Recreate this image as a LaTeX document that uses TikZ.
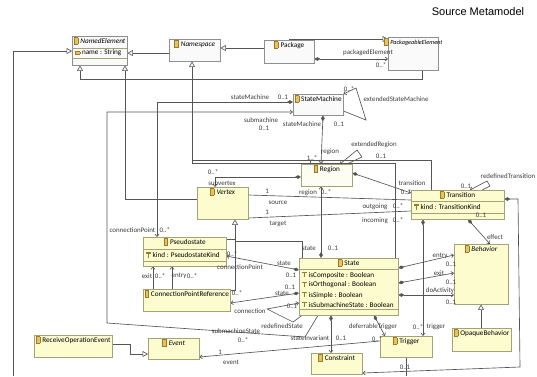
\documentclass[tikz,border=0pt]{standalone}
\usepackage{fontspec}
\setmainfont{Carlito}
\newfontfamily\titlefont{Liberation Sans}
\usetikzlibrary{arrows.meta,backgrounds}
\definecolor{clsfill}{HTML}{FCFCCF}
\definecolor{clsline}{HTML}{A3A37A}
\definecolor{absfill}{HTML}{FAFAFA}
\definecolor{absline}{HTML}{8F8F8F}
\definecolor{regfill}{HTML}{FEFDF2}
\definecolor{iconfill}{HTML}{E6C35C}
\definecolor{icondark}{HTML}{9C7A28}
\definecolor{wirecol}{HTML}{555555}
\definecolor{lbl}{HTML}{3A3A3A}
\newcommand{\clsicon}{{\setlength{\fboxsep}{0pt}\setlength{\fboxrule}{0.4pt}\fcolorbox{icondark}{iconfill}{\rule{0pt}{6pt}\hspace{3.4pt}}}\hspace{2.2pt}}
\newcommand{\fieldicon}{{\setlength{\fboxsep}{0pt}\setlength{\fboxrule}{0.4pt}\raisebox{1pt}{\fcolorbox{icondark}{iconfill}{\rule{0pt}{2pt}\hspace{4pt}}}}\hspace{2pt}}
\newcommand{\pinicon}{\textcolor{icondark}{\rlap{\rule[4pt]{4.5pt}{1.2pt}}\hspace{1.8pt}\rule{1pt}{5pt}\hspace{1.7pt}}\hspace{2pt}}
\newcommand{\compline}[2]{\draw[clsline,line width=0.4pt] (#1.west |- 0,#2) -- (#1.east |- 0,#2);}

\begin{document}
\begin{tikzpicture}[x=1pt,y=-1pt,font=\fontsize{7.2}{8.5}\selectfont,
    cls/.style={rectangle,draw=clsline,fill=clsfill,inner sep=0pt,anchor=north west},
    plaincls/.style={cls,draw=absline,fill=absfill},
    regcls/.style={cls,fill=regfill},
    hdr/.style={anchor=north,inner sep=1.2pt},
    attr/.style={anchor=west,inner sep=0pt},
    lab/.style={font=\fontsize{6.9}{8}\selectfont,text=lbl,inner sep=0pt},
    wire/.style={draw=wirecol,line width=0.65pt},
    gen/.style={wire,-{Triangle[open,length=5.5pt,width=6pt]}},
    comp/.style={wire,{Diamond[length=6pt,width=3.6pt]}-{Straight Barb[length=2.4pt,width=4pt]}},
    assoc/.style={wire,-{Straight Barb[length=2.4pt,width=4pt]}}]

  \useasboundingbox (0,0) rectangle (537,376);
  \node[font=\titlefont\fontsize{11}{13}\selectfont] (title) at (478,12) {Source Metamodel};

  % classes
  \node[plaincls,minimum width=55,minimum height=29] (NamedElement) at (72,36) {};
  \node[plaincls,minimum width=51,minimum height=22] (Namespace) at (169,39) {};
  \node[plaincls,minimum width=50,minimum height=23] (Package) at (264,40) {};
  \node[plaincls,minimum width=50,minimum height=33] (PackageableElement) at (388,37) {};
  \node[plaincls,minimum width=50,minimum height=21] (StateMachine) at (293,94) {};
  \node[regcls,minimum width=51,minimum height=22] (Region) at (301,164) {};
  \node[cls,minimum width=51,minimum height=32] (Vertex) at (197,187) {};
  \node[cls,minimum width=93,minimum height=29] (Transition) at (411,190) {};
  \node[cls,minimum width=83,minimum height=29] (Pseudostate) at (143,237) {};
  \node[cls,minimum width=87,minimum height=22] (ConnectionPointReference) at (143,289) {};
  \node[cls,minimum width=99,minimum height=57] (State) at (299,258) {};
  \node[cls,minimum width=54,minimum height=60] (Behavior) at (454,244) {};
  \node[cls,minimum width=59,minimum height=23] (OpaqueBehavior) at (452,328) {};
  \node[cls,minimum width=52,minimum height=21] (Trigger) at (380,336) {};
  \node[cls,minimum width=51,minimum height=21] (Constraint) at (311,353) {};
  \node[cls,minimum width=78,minimum height=22] (ReceiveOperationEvent) at (34,335) {};
  \node[cls,minimum width=51,minimum height=21] (Event) at (148,338) {};

  \node[hdr] (NamedElement-h) at (NamedElement.north) {\clsicon\textit{NamedElement}};
  \node[hdr] (Namespace-h) at (Namespace.north) {\clsicon\textit{Namespace}};
  \node[hdr] (Package-h) at (Package.north) {\clsicon Package};
  \node[hdr,font=\fontsize{6.2}{7.5}\selectfont] (PackageableElement-h) at (PackageableElement.north) {\clsicon\textit{PackageableElement}};
  \node[hdr] (StateMachine-h) at (StateMachine.north) {\clsicon StateMachine};
  \node[hdr] (Region-h) at (Region.north) {\clsicon Region};
  \node[hdr] (Vertex-h) at (Vertex.north) {\clsicon\textit{Vertex}};
  \node[hdr] (Transition-h) at (Transition.north) {\clsicon Transition};
  \node[hdr] (Pseudostate-h) at (Pseudostate.north) {\clsicon Pseudostate};
  \node[hdr] (ConnectionPointReference-h) at (ConnectionPointReference.north) {\clsicon ConnectionPointReference};
  \node[hdr] (State-h) at (State.north) {\clsicon State};
  \node[hdr] (Behavior-h) at (Behavior.north) {\clsicon\textit{Behavior}};
  \node[hdr] (OpaqueBehavior-h) at (OpaqueBehavior.north) {\clsicon OpaqueBehavior};
  \node[hdr] (Trigger-h) at (Trigger.north) {\clsicon Trigger};
  \node[hdr] (Constraint-h) at (Constraint.north) {\clsicon Constraint};
  \node[hdr] (ReceiveOperationEvent-h) at (ReceiveOperationEvent.north) {\clsicon ReceiveOperationEvent};
  \node[hdr] (Event-h) at (Event.north) {\clsicon\textit{Event}};

  % attribute compartments
  \compline{NamedElement}{48}
  \compline{NamedElement}{58}
  \node[attr] (NamedElement-a) at (75,53) {\fieldicon name : String};
  \compline{Transition}{201}
  \compline{Transition}{213}
  \node[attr] (Transition-a) at (414,207) {\pinicon kind : TransitionKind};
  \compline{Pseudostate}{249}
  \compline{Pseudostate}{261}
  \node[attr] (Pseudostate-a) at (146,255) {\pinicon kind : PseudostateKind};
  \compline{State}{269}
  \compline{State}{309}
  \node[attr] (State-a1) at (302,275) {\pinicon isComposite : Boolean};
  \node[attr] (State-a2) at (302,285) {\pinicon isOrthogonal : Boolean};
  \node[attr] (State-a3) at (302,295) {\pinicon isSimple : Boolean};
  \node[attr] (State-a4) at (302,304.5) {\pinicon isSubmachineState : Boolean};

  \begin{scope}[on background layer]
    % generalizations
    \draw[gen] (Package.west |- 0,48) -- (Namespace.east |- 0,48);
    \draw[gen] (Namespace.west |- 0,53) -- (NamedElement.east |- 0,53);
    \draw[gen] (Package.north) |- (PackageableElement.west |- 0,39);
    \draw[gen] (PackageableElement.south -| 422,0) |- (80,79) -- (NamedElement.south -| 80,0);
    \draw[gen] (Vertex.west |- 0,199) -| (NamedElement.south -| 125,0);
    \draw[gen] (State.north -| 395,0) |- (192,163) -- (Namespace.south -| 192,0);
    \draw[wire] (Transition.north -| 431,0) |- (192,160);
    \draw[wire] (Region.north -| 310,0) -- (310,160);
    \draw[gen] (State.north -| 302,0) |- (235,241) -- (Vertex.south -| 235,0);
    \draw[wire] (Pseudostate.east |- 0,239) -| (235,241);
    \draw[wire] (ConnectionPointReference.east |- 0,290) -| (235,241);
    \draw[gen] (OpaqueBehavior.north -| 481,0) -- (Behavior.south -| 481,0);
    \draw[gen] (ReceiveOperationEvent.east |- 0,344) -| (130,354) -- (Event.west |- 0,354);
    \coordinate (offleft) at (13,376);
    \draw[gen] (offleft) |- (NamedElement.west |- 0,51);
    % references
    \draw[comp] (Package.east |- 0,59) -- (PackageableElement.west |- 0,59);
    \draw[comp] (StateMachine.south -| 323,0) -- (Region.north -| 321,0);
    \draw[comp] (StateMachine.west |- 0,102) -| (Pseudostate.north -| 157,0);
    \draw[assoc] (State.south -| 318,0) -- (305,337) -- (107,323) |- (StateMachine.west |- 0,112);
    \draw[assoc] (StateMachine.east |- 0,111) -- (366,120) -- (356,88) -- (StateMachine.north east);
    \draw[assoc] (Region.north -| 347,0) -- (362,157) -- (357,150) -- (Region.north -| 340,0);
    \draw[comp] (Region.west |- 0,177) -| (Vertex.north -| 215,0);
    \draw[comp] (Region.east |- 0,173) -- (Transition.west |- 0,193);
    \draw[assoc] (Transition.north -| 482,0) -- (490,186) -- (487,181) -- (Transition.north -| 470,0);
    \draw[wire] (Vertex.east |- 0,195) -- (Transition.west |- 0,200);
    \draw[wire] (Vertex.east |- 0,218) -- (Transition.west |- 0,211);
    \draw[comp] (State.north -| 321,0) -- (Region.south -| 321,0);
    \draw[comp] (State.west |- 0,270) -- (Pseudostate.east |- 0,256);
    \draw[comp] (State.west |- 0,293) -- (ConnectionPointReference.east |- 0,303);
    \draw[assoc] (State.south -| 302,0) -- (293,322) -- (267,309) -- (State.west |- 0,303);
    \draw[assoc] (ConnectionPointReference.north -| 153,0) -- (Pseudostate.south -| 153,0);
    \draw[assoc] (ConnectionPointReference.north -| 172,0) -- (Pseudostate.south -| 172,0);
    \draw[comp] (State.south -| 331,0) -- (Constraint.north -| 331,0);
    \draw[comp] (State.south -| 374,0) -- (Trigger.north -| 385,0);
    \draw[comp] (Transition.south -| 423,0) -- (Trigger.north -| 423,0);
    \draw[comp] (Transition.south -| 468,0) -- (Behavior.north -| 490,0);
    \draw[comp] (Transition.east |- 0,199) -- (518,199) -- (520,367) -- (Constraint.east |- 0,373);
    \draw[comp] (State.east |- 0,268) -- (Behavior.west |- 0,255);
    \draw[comp] (State.east |- 0,283) -- (Behavior.west |- 0,273);
    \draw[comp] (State.east |- 0,295) -- (Behavior.west |- 0,295);
    \draw[assoc] (Trigger.west |- 0,341) -- (Event.east |- 0,357);
    \coordinate (offbottom) at (406,376);
    \draw[wire] (Trigger.south -| 406,0) -- (offbottom);
  \end{scope}

  % role names and multiplicities
  \node[lab] (l1) at (368,53) {packagedElement};
  \node[lab] (l2) at (381,65) {0..*};
  \node[lab] (l3) at (250,97) {stateMachine};
  \node[lab] (l4) at (283,97) {0..1};
  \node[lab] (l5) at (261,120) {submachine};
  \node[lab] (l6) at (264,128) {0..1};
  \node[lab] (l7) at (302,124) {stateMachine};
  \node[lab] (l8) at (339,124) {0..1};
  \node[lab] (l9) at (349,89) {0..*};
  \node[lab] (l10) at (396,99) {extendedStateMachine};
  \node[lab] (l11) at (374,145) {extendedRegion};
  \node[lab] (l12) at (381,156) {0..1};
  \node[lab] (l13) at (330,152) {region};
  \node[lab] (l14) at (312,158) {1..*};
  \node[lab] (l15) at (213,172) {0..*};
  \node[lab] (l16) at (222,183) {subvertex};
  \node[lab] (l17) at (412,183) {transition};
  \node[lab] (l18) at (406,192) {0..*};
  \node[lab] (l19) at (466,186) {0..1};
  \node[lab] (l20) at (508,176) {redefinedTransition};
  \node[lab] (l21) at (267,191) {1};
  \node[lab] (l22) at (278,203) {source};
  \node[lab] (l23) at (267,212) {1};
  \node[lab] (l24) at (278,224) {target};
  \node[lab] (l25) at (308,193) {region};
  \node[lab] (l26) at (326,192) {0..*};
  \node[lab] (l27) at (375,207) {outgoing};
  \node[lab] (l28) at (398,206) {0..*};
  \node[lab] (l29) at (375,221) {incoming};
  \node[lab] (l30) at (398,220) {0..*};
  \node[lab] (l31) at (309,248) {state};
  \node[lab] (l32) at (333,248) {0..1};
  \node[lab,anchor=east] (l33) at (155.5,230) {connectionPoint};
  \node[lab,anchor=west] (l34) at (159.5,230) {0..*};
  \node[lab] (l35) at (232,254) {0..*};
  \node[lab] (l36) at (240,267) {connectionPoint};
  \node[lab] (l37) at (284,263) {state};
  \node[lab] (l38) at (291,275) {0..1};
  \node[lab] (l39) at (147,276) {exit};
  \node[lab] (l40) at (160,276) {0..*};
  \node[lab] (l41) at (179,276) {entry};
  \node[lab] (l42) at (192,276) {0..*};
  \node[lab] (l43) at (237,293) {0..*};
  \node[lab] (l44) at (250,311) {connection};
  \node[lab] (l45) at (290,287) {0..1};
  \node[lab] (l46) at (282,293) {state};
  \node[lab] (l47) at (282,326) {redefinedState};
  \node[lab] (l48) at (292,306) {0..1};
  \node[lab] (l49) at (236,331) {submachineState};
  \node[lab] (l50) at (243,340) {0..*};
  \node[lab] (l51) at (310,338) {stateInvariant};
  \node[lab] (l52) at (341,338) {0..1};
  \node[lab] (l53) at (373,327) {deferrableTrigger};
  \node[lab] (l54) at (377,339) {0..*};
  \node[lab] (l55) at (418,327) {0..*};
  \node[lab] (l56) at (436,327) {trigger};
  \node[lab] (l57) at (220,352) {1};
  \node[lab] (l58) at (231,362) {event};
  \node[lab] (l59) at (440,256) {entry};
  \node[lab] (l60) at (451,264) {0..1};
  \node[lab] (l61) at (439,273) {exit};
  \node[lab] (l62) at (451,282) {0..1};
  \node[lab] (l63) at (440,291) {doActivity};
  \node[lab] (l64) at (451,302) {0..1};
  \node[lab] (l65) at (495,237) {effect};
  \node[lab] (l66) at (481,215) {0..1};
  \node[lab] (l67) at (405,367) {0..1};
\end{tikzpicture}
\end{document}
